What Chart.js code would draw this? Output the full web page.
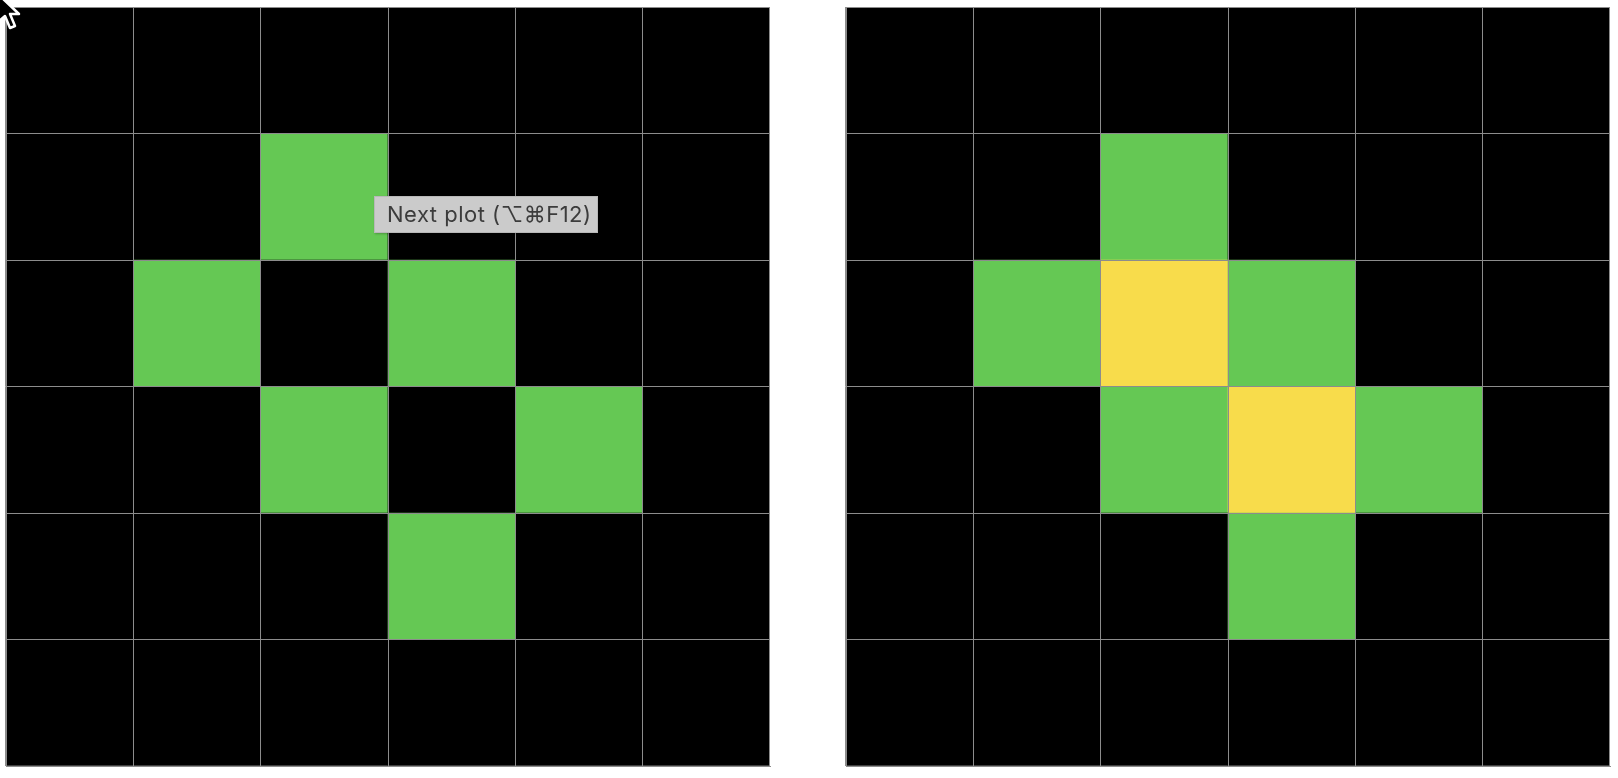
<!DOCTYPE html>
<html>
<head>
<meta charset="utf-8">
<script src="https://cdn.jsdelivr.net/npm/chart.js@4"></script>
<style>
  html, body { margin:0; padding:0; background:#fff; width:1618px; height:778px; overflow:hidden; }
  .wrap { position:absolute; top:0; height:778px; }
  #tip { position:absolute; left:374px; top:196px; width:224px; height:37px; box-sizing:border-box;
         background:#cbcbcb; color:#3c3c3c; font-family:"Inter","Noto Sans","DejaVu Sans",sans-serif;
         font-size:22px; letter-spacing:0.5px; line-height:34px; padding-left:12px; white-space:nowrap;
         border:1px solid #b8b8b8; box-shadow:1px 1px 2px rgba(0,0,0,0.25); }
  #cursor { position:absolute; left:-6px; top:-8px; }
</style>
</head>
<body>
<div class="wrap" style="left:0;width:800px;"><canvas id="c1"></canvas></div>
<div class="wrap" style="left:809px;width:809px;"><canvas id="c2"></canvas></div>
<div id="tip">Next plot (⌥⌘F12)</div>
<svg id="cursor" width="40" height="44" viewBox="0 0 40 44">
  <polygon points="4,2 4,30 11,24 16,36 21,34 16,22 25,22" fill="#000" stroke="#fff" stroke-width="2.5" stroke-linejoin="round"/>
</svg>
<script>
// Grid values, rows listed top to bottom; 0 = empty, 1 = green, 2 = yellow
const columns = ["c1", "c2", "c3", "c4", "c5", "c6"];
const leftGrid = [
  [0,0,0,0,0,0],
  [0,0,1,0,0,0],
  [0,1,0,1,0,0],
  [0,0,1,0,1,0],
  [0,0,0,1,0,0],
  [0,0,0,0,0,0]
];
const rightGrid = [
  [0,0,0,0,0,0],
  [0,0,1,0,0,0],
  [0,1,2,1,0,0],
  [0,0,1,2,1,0],
  [0,0,0,1,0,0],
  [0,0,0,0,0,0]
];
const palette = ["#000000", "#65c854", "#f8dc4b"];
const gridColor = "rgb(140,140,140)";

function makeChart(id, grid, padding) {
  const nRows = grid.length;
  const datasets = [];
  // bottom row first so stacking goes upward
  for (let r = nRows - 1; r >= 0; r--) {
    datasets.push({
      label: "row" + r,
      data: grid[r].map(() => 1),
      backgroundColor: grid[r].map(v => palette[v]),
      borderWidth: 0,
      barPercentage: 1,
      categoryPercentage: 1
    });
  }
  return new Chart(document.getElementById(id), {
    type: "bar",
    data: { labels: columns, datasets },
    options: {
      responsive: true,
      maintainAspectRatio: false,
      animation: false,
      layout: { padding },
      plugins: { legend: { display: false }, tooltip: { enabled: false }, title: { display: false } },
      events: [],
      scales: {
        x: {
          stacked: true,
          offset: true,
          grid: { display: true, offset: true, color: gridColor, lineWidth: 1, drawTicks: false, z: 1 },
          border: { display: true, color: gridColor, z: 1 },
          ticks: { display: false }
        },
        y: {
          stacked: true,
          min: 0,
          max: nRows,
          grid: { display: true, color: gridColor, lineWidth: 1, drawTicks: false, z: 1 },
          border: { display: true, color: gridColor, z: 1 },
          ticks: { display: false, stepSize: 1 }
        }
      }
    }
  });
}

makeChart("c1", leftGrid, { left: 6, top: 7, right: 30, bottom: 12 });
makeChart("c2", rightGrid, { left: 37, top: 7, right: 8, bottom: 12 });
</script>
</body>
</html>
